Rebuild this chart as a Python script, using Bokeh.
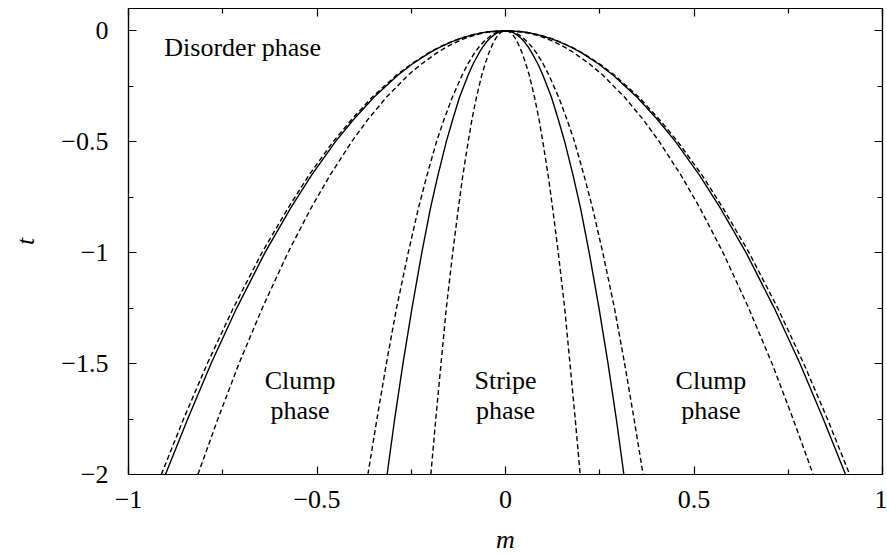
from bokeh.plotting import figure
from bokeh.models import Range1d, LinearAxis, FixedTicker, CustomJSTickFormatter, ColumnDataSource
from bokeh.core.properties import value
from bokeh.embed import file_html
from bokeh.resources import INLINE

# Temperature levels at which each phase boundary is tabulated (t <= 0)
t_levels = [0.0, -0.005, -0.01, -0.02, -0.035, -0.05, -0.075, -0.1, -0.15, -0.2,
            -0.3, -0.4, -0.5, -0.65, -0.8, -1.0, -1.25, -1.5, -1.75, -2.0]

# |m| of each boundary at those levels (curves are symmetric in m)
m_outer_dashed = [0.0, 0.046, 0.065, 0.091, 0.121, 0.144, 0.177, 0.204, 0.250, 0.289,
                  0.354, 0.408, 0.457, 0.521, 0.577, 0.646, 0.722, 0.791, 0.854, 0.913]
m_outer_solid = [0.0, 0.045, 0.064, 0.090, 0.119, 0.143, 0.175, 0.202, 0.247, 0.285,
                 0.349, 0.403, 0.451, 0.514, 0.570, 0.638, 0.713, 0.781, 0.843, 0.902]
m_middle_dashed = [0.0, 0.041, 0.058, 0.082, 0.108, 0.129, 0.158, 0.182, 0.223, 0.258,
                   0.316, 0.365, 0.408, 0.465, 0.516, 0.577, 0.645, 0.707, 0.763, 0.816]
m_inner_dashed_out = [0.0, 0.018, 0.026, 0.037, 0.048, 0.058, 0.071, 0.082, 0.100, 0.115,
                      0.141, 0.163, 0.183, 0.208, 0.231, 0.258, 0.289, 0.316, 0.341, 0.365]
m_inner_solid = [0.0, 0.016, 0.022, 0.031, 0.042, 0.050, 0.061, 0.070, 0.086, 0.099,
                 0.122, 0.140, 0.157, 0.179, 0.199, 0.222, 0.248, 0.272, 0.294, 0.314]
m_inner_dashed_in = [0.0, 0.010, 0.014, 0.020, 0.026, 0.031, 0.038, 0.044, 0.054, 0.063,
                     0.077, 0.089, 0.099, 0.113, 0.125, 0.140, 0.157, 0.171, 0.185, 0.198]

x_ticks = [-1, -0.5, 0, 0.5, 1]
x_tick_labels = ["\u22121", "\u22120.5", "0", "0.5", "1"]
x_minor = [-0.75, -0.25, 0.25, 0.75]
y_ticks = [-2, -1.5, -1, -0.5, 0]
y_tick_labels = ["\u22122", "\u22121.5", "\u22121", "\u22120.5", "0"]
y_minor = [-1.75, -1.25, -0.75, -0.25]

phase_labels = ["Disorder phase", "Clump", "phase", "Stripe", "phase", "Clump", "phase"]
phase_m = [-0.905, -0.545, -0.545, 0.0, 0.0, 0.545, 0.545]
phase_t = [-0.075, -1.577, -1.712, -1.577, -1.712, -1.577, -1.712]
phase_align = ["left", "center", "center", "center", "center", "center", "center"]

FONT = "Liberation Serif"
FS = "26px"

p = figure(width=887, height=556, x_range=Range1d(-1, 1), y_range=Range1d(-2, 0.1),
           output_backend="svg", toolbar_location=None,
           min_border_left=128, min_border_right=5, min_border_top=8, min_border_bottom=82)
p.xaxis.visible = False
p.yaxis.visible = False
p.xgrid.visible = False
p.ygrid.visible = False
p.outline_line_color = "black"
p.outline_line_width = 1.2
p.background_fill_color = "white"
p.border_fill_color = "white"


def make_formatter(vals, labels):
    return CustomJSTickFormatter(args=dict(vals=vals, labels=labels), code="""
        for (let i = 0; i < vals.length; i++) {
            if (Math.abs(vals[i] - tick) < 1e-9) { return labels[i]; }
        }
        return "";
    """)


def style_axis(ax, labelled):
    ax.axis_line_color = "black"
    ax.axis_line_width = 1.2
    ax.major_tick_in = 8
    ax.major_tick_out = 0
    ax.minor_tick_in = 5
    ax.minor_tick_out = 0
    ax.major_tick_line_color = "black"
    ax.minor_tick_line_color = "black"
    ax.major_tick_line_width = 1.2
    ax.minor_tick_line_width = 1.2
    ax.major_label_text_font = FONT
    ax.major_label_text_font_size = FS
    ax.major_label_text_color = "black"
    ax.axis_label_text_font = FONT
    ax.axis_label_text_font_size = FS
    ax.axis_label_text_font_style = "italic"
    ax.axis_label_text_color = "black"
    if not labelled:
        ax.major_label_text_font_size = "0px"
        ax.major_label_standoff = 0


xb = LinearAxis(ticker=FixedTicker(ticks=x_ticks, minor_ticks=x_minor),
                formatter=make_formatter(x_ticks, x_tick_labels), axis_label="m")
style_axis(xb, True)
xb.major_label_standoff = 16
xb.axis_label_standoff = 14
p.add_layout(xb, "below")

yl = LinearAxis(ticker=FixedTicker(ticks=y_ticks, minor_ticks=y_minor),
                formatter=make_formatter(y_ticks, y_tick_labels), axis_label="t")
style_axis(yl, True)
yl.major_label_standoff = 20
yl.axis_label_standoff = 18
p.add_layout(yl, "left")

xt = LinearAxis(ticker=FixedTicker(ticks=x_ticks, minor_ticks=x_minor),
                formatter=make_formatter(x_ticks, ["", "", "", "", ""]))
style_axis(xt, False)
p.add_layout(xt, "above")

yr = LinearAxis(ticker=FixedTicker(ticks=y_ticks, minor_ticks=y_minor),
                formatter=make_formatter(y_ticks, ["", "", "", "", ""]))
style_axis(yr, False)
p.add_layout(yr, "right")


def mirrored(ms, ts):
    xs = [-m for m in reversed(ms)] + list(ms[1:])
    ys = list(reversed(ts)) + list(ts[1:])
    return xs, ys


curves = [
    (m_outer_dashed, "5 3"),
    (m_outer_solid, "solid"),
    (m_middle_dashed, "5 3"),
    (m_inner_dashed_out, "5 3"),
    (m_inner_solid, "solid"),
    (m_inner_dashed_in, "5 3"),
]
for ms, dash in curves:
    xs, ys = mirrored(ms, t_levels)
    p.line(xs, ys, line_color="black", line_width=1.4, line_dash=dash)

src = ColumnDataSource(dict(x=phase_m, y=phase_t, text=phase_labels, align=phase_align))
p.text(x="x", y="y", text="text", source=src, text_align="align", text_baseline="middle",
       text_font=value(FONT), text_font_size=FS, text_color="black")

open("out.html", "w").write(file_html(p, INLINE))
